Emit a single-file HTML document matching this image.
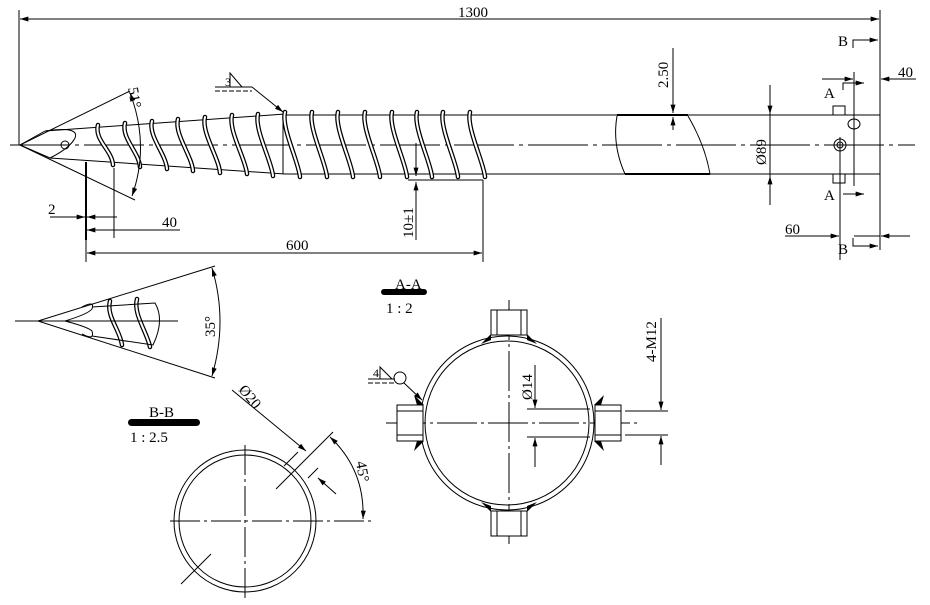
<!DOCTYPE html>
<html><head><meta charset="utf-8"><style>
html,body{margin:0;padding:0;background:#fff;}
svg{display:block;}
text{font-family:"Liberation Serif","Noto Serif CJK SC",serif;fill:#000;}
</style></head><body>
<svg width="930" height="605" viewBox="0 0 930 605" xmlns="http://www.w3.org/2000/svg">
<defs>
<marker id="ar" viewBox="0 0 10 6" refX="10" refY="3" markerWidth="12" markerHeight="5" markerUnits="userSpaceOnUse" orient="auto-start-reverse"><path d="M0,0 L10,3 L0,6 z" fill="#000"/></marker>
</defs>
<g stroke="#000" stroke-width="1" fill="none">
<line x1="19" y1="10" x2="19" y2="145"/>
<line x1="880" y1="10" x2="880" y2="250"/>
<line x1="20" y1="19" x2="879" y2="19" marker-start="url(#ar)" marker-end="url(#ar)"/>
<line x1="10" y1="145" x2="915" y2="145" stroke-dasharray="60,5,4,5"/>
<line x1="20" y1="145" x2="130" y2="91"/>
<line x1="20" y1="145" x2="135" y2="200"/>
<line x1="20" y1="145" x2="45" y2="131"/>
<line x1="20" y1="145" x2="50" y2="158"/>
<path d="M45,131 Q80,126 75,138 Q70,148 50,158"/>
<circle cx="65" cy="145" r="4"/>
<line x1="45" y1="131" x2="285" y2="114"/>
<line x1="50" y1="158" x2="285" y2="174"/>
<line x1="283" y1="114" x2="283" y2="174"/>
<line x1="285" y1="115" x2="880" y2="115"/>
<line x1="285" y1="174" x2="880" y2="174"/>
<path d="M617,116 Q612,145 625,174 M688,116 Q705,145 710,174"/>
<line x1="617" y1="115" x2="688" y2="115" stroke-width="2"/>
<line x1="625" y1="174" x2="710" y2="174" stroke-width="2"/>
</g>
<g fill="none" stroke-linecap="round">
<g stroke="#000" stroke-width="4.5">
<path d="M98,125 C94,140 112,150 113,165"/>
<path d="M125,123 C121,138 139,152 140,167"/>
<path d="M152,121 C148,136 166,154 167,169"/>
<path d="M178,119 C174,134 192,156 193,171"/>
<path d="M205,117 C201,132 219,158 220,173"/>
<path d="M232,115 C228,130 246,160 247,174"/>
<path d="M258,114 C254,129 272,162 273,176"/>
<path d="M285,112 C281,127 299,163 300,177"/>
<path d="M312,112 C308,127 326,163 327,177"/>
<path d="M338,112 C334,127 352,163 353,177"/>
<path d="M365,112 C361,127 379,163 380,177"/>
<path d="M392,112 C388,127 406,163 407,177"/>
<path d="M417,112 C413,127 431,163 432,177"/>
<path d="M443,112 C439,127 457,163 458,177"/>
<path d="M470,112 C466,127 484,163 485,177"/>
<path d="M110,301 C106,316 120,330 122,345"/>
<path d="M137,299 C133,314 147,332 150,347"/>
</g>
<g stroke="#fff" stroke-width="2">
<path d="M98,125 C94,140 112,150 113,165"/>
<path d="M125,123 C121,138 139,152 140,167"/>
<path d="M152,121 C148,136 166,154 167,169"/>
<path d="M178,119 C174,134 192,156 193,171"/>
<path d="M205,117 C201,132 219,158 220,173"/>
<path d="M232,115 C228,130 246,160 247,174"/>
<path d="M258,114 C254,129 272,162 273,176"/>
<path d="M285,112 C281,127 299,163 300,177"/>
<path d="M312,112 C308,127 326,163 327,177"/>
<path d="M338,112 C334,127 352,163 353,177"/>
<path d="M365,112 C361,127 379,163 380,177"/>
<path d="M392,112 C388,127 406,163 407,177"/>
<path d="M417,112 C413,127 431,163 432,177"/>
<path d="M443,112 C439,127 457,163 458,177"/>
<path d="M470,112 C466,127 484,163 485,177"/>
<path d="M110,301 C106,316 120,330 122,345"/>
<path d="M137,299 C133,314 147,332 150,347"/>
</g>
</g>
<g stroke="#000" stroke-width="1" fill="none">
<path d="M130,93 Q150,145 132,196" marker-start="url(#ar)" marker-end="url(#ar)"/>
<line x1="215" y1="87" x2="252" y2="87"/>
<line x1="215" y1="91" x2="252" y2="91" stroke-dasharray="5,2"/>
<path d="M230,87 L230,73 L242,87"/>
<line x1="252" y1="87" x2="283" y2="112" marker-end="url(#ar)"/>
<line x1="86" y1="162" x2="86" y2="240" stroke-width="2"/>
<line x1="114" y1="168" x2="114" y2="238"/>
<line x1="50" y1="217" x2="85" y2="217" marker-end="url(#ar)"/>
<line x1="117" y1="217" x2="87" y2="217" marker-end="url(#ar)"/>
<line x1="87" y1="230" x2="180" y2="230" marker-start="url(#ar)"/>
<line x1="86" y1="240" x2="86" y2="262"/>
<line x1="483" y1="180" x2="483" y2="262"/>
<line x1="87" y1="253" x2="482" y2="253" marker-start="url(#ar)" marker-end="url(#ar)"/>
<line x1="408" y1="180" x2="483" y2="180"/>
<line x1="416" y1="143" x2="416" y2="176" marker-end="url(#ar)"/>
<line x1="416" y1="240" x2="416" y2="182" marker-end="url(#ar)"/>
<line x1="673" y1="48" x2="673" y2="113" marker-end="url(#ar)"/>
<line x1="673" y1="130" x2="673" y2="117" marker-end="url(#ar)"/>
<line x1="770" y1="85" x2="770" y2="114" marker-end="url(#ar)"/>
<line x1="770" y1="205" x2="770" y2="176" marker-end="url(#ar)"/>
<line x1="770" y1="114" x2="770" y2="176"/>
<rect x="833" y="106" width="12" height="9"/>
<rect x="833" y="174" width="12" height="9"/>
<circle cx="840" cy="145" r="6"/>
<circle cx="840" cy="145" r="3"/>
<line x1="840" y1="137" x2="840" y2="260"/>
<ellipse cx="854" cy="124" rx="6" ry="5"/>
<line x1="854" y1="72" x2="854" y2="186"/>
<path d="M853,48 L853,40 L870,40"/>
<path d="M853,238 L853,246 L870,246"/>
<path d="M843,90 L843,83 L862,83"/>
<path d="M843,194 L862,194"/>
<line x1="862" y1="40" x2="878" y2="40" marker-end="url(#ar)"/>
<line x1="862" y1="246" x2="878" y2="246" marker-end="url(#ar)"/>
<line x1="855" y1="83" x2="864" y2="83" marker-end="url(#ar)"/>
<line x1="855" y1="194" x2="864" y2="194" marker-end="url(#ar)"/>
<line x1="822" y1="79" x2="853" y2="79" marker-end="url(#ar)"/>
<line x1="916" y1="79" x2="881" y2="79" marker-end="url(#ar)"/>
<line x1="785" y1="236" x2="839" y2="236" marker-end="url(#ar)"/>
<line x1="910" y1="236" x2="881" y2="236" marker-end="url(#ar)"/>
<line x1="854" y1="236" x2="880" y2="236"/>

<line x1="15" y1="321" x2="178" y2="321"/>
<line x1="38" y1="321" x2="215" y2="266"/>
<line x1="38" y1="321" x2="215" y2="378"/>
<path d="M82,307 Q95,300 92,309 Q88,314 65,321 Q88,327 92,331 Q95,341 82,334"/>
<path d="M92,307 L155,303 Q165,320 153,345 L92,336"/>
<path d="M212,268 Q228,321 212,376" marker-start="url(#ar)" marker-end="url(#ar)"/>

<circle cx="245" cy="521" r="71"/>
<circle cx="245" cy="521" r="66"/>
<line x1="245" y1="445" x2="245" y2="598" stroke-dasharray="30,4,3,4"/>
<line x1="170" y1="521" x2="372" y2="521" stroke-dasharray="30,4,3,4"/>
<line x1="232" y1="390" x2="306" y2="451" marker-end="url(#ar)"/>
<line x1="336" y1="494" x2="318" y2="478" marker-end="url(#ar)"/>
<line x1="276" y1="489" x2="333" y2="432"/>
<line x1="284" y1="466" x2="298" y2="452"/>
<line x1="308" y1="478" x2="318" y2="468"/>
<line x1="181" y1="584" x2="211" y2="554"/>
<path d="M330,437 Q365,470 363,519" marker-start="url(#ar)" marker-end="url(#ar)"/>

<circle cx="507" cy="423" r="87"/>
<circle cx="507" cy="423" r="82"/>
<line x1="509" y1="300" x2="509" y2="545" stroke-dasharray="40,4,3,4"/>
<line x1="386" y1="423" x2="640" y2="423" stroke-dasharray="40,4,3,4"/>
<rect x="491" y="310" width="36" height="25" fill="#fff"/>
<line x1="497" y1="310" x2="497" y2="335"/><line x1="521" y1="310" x2="521" y2="335"/>
<rect x="491" y="511" width="36" height="25" fill="#fff"/>
<line x1="497" y1="511" x2="497" y2="536"/><line x1="521" y1="511" x2="521" y2="536"/>
<rect x="397" y="405" width="26" height="36" fill="#fff"/>
<line x1="397" y1="411" x2="423" y2="411"/><line x1="397" y1="435" x2="423" y2="435"/>
<rect x="595" y="405" width="26" height="36" fill="#fff"/>
<line x1="595" y1="411" x2="621" y2="411"/><line x1="595" y1="435" x2="621" y2="435"/>
<line x1="527" y1="409" x2="590" y2="409"/>
<line x1="527" y1="437" x2="590" y2="437"/>
<line x1="535" y1="365" x2="535" y2="408" marker-end="url(#ar)"/>
<line x1="535" y1="467" x2="535" y2="438" marker-end="url(#ar)"/>
<line x1="625" y1="411" x2="668" y2="411"/>
<line x1="625" y1="435" x2="668" y2="435"/>
<line x1="661" y1="318" x2="661" y2="410" marker-end="url(#ar)"/>
<line x1="661" y1="465" x2="661" y2="436" marker-end="url(#ar)"/>
<line x1="368" y1="379" x2="395" y2="379"/>
<line x1="368" y1="383" x2="395" y2="383" stroke-dasharray="5,2"/>
<path d="M380,379 L380,367 L392,379"/>
<circle cx="400" cy="378" r="6"/>
<line x1="404" y1="383" x2="422" y2="400" marker-end="url(#ar)"/>
</g>
<g fill="#000">
<path d="M491,334 L481,344 L491,340z"/><path d="M527,334 L537,344 L527,340z"/>
<path d="M491,512 L481,502 L491,506z"/><path d="M527,512 L537,502 L527,506z"/>
<path d="M424,405 L414,395 L417,405z"/><path d="M424,441 L414,451 L417,441z"/>
<path d="M594,405 L604,395 L601,405z"/><path d="M594,441 L604,451 L601,441z"/>
</g>
<rect x="381" y="289" width="46" height="6" rx="3" fill="#000"/>
<rect x="128" y="419" width="72" height="7" rx="3.5" fill="#000"/>
<g font-size="15">
<text x="458" y="17">1300</text>
<text x="48" y="214">2</text>
<text x="162" y="227">40</text>
<text x="286" y="250">600</text>
<text x="838" y="46">B</text>
<text x="838" y="254">B</text>
<text x="824" y="98">A</text>
<text x="824" y="200">A</text>
<text x="898" y="77">40</text>
<text x="785" y="234">60</text>
<text x="225" y="86" font-size="12">3</text>
<text x="373" y="377" font-size="12">4</text>
<text x="395" y="289">A-A</text>
<text x="386" y="313">1 : 2</text>
<text x="149" y="417">B-B</text>
<text x="130" y="442">1 : 2.5</text>
<text transform="translate(668,88) rotate(-90)">2.50</text>
<text transform="translate(766,165) rotate(-90)">Ø89</text>
<text transform="translate(413,238) rotate(-90)">10±1</text>
<text transform="translate(656,362) rotate(-90)">4-M12</text>
<text transform="translate(532,400) rotate(-90)">Ø14</text>
<text transform="translate(215,337) rotate(-90)">35°</text>
<text transform="translate(128,88) rotate(80)">51°</text>
<text transform="translate(238,390) rotate(50)">Ø20</text>
<text transform="translate(356,462) rotate(80)">45°</text>
</g>
</svg>
</body></html>
